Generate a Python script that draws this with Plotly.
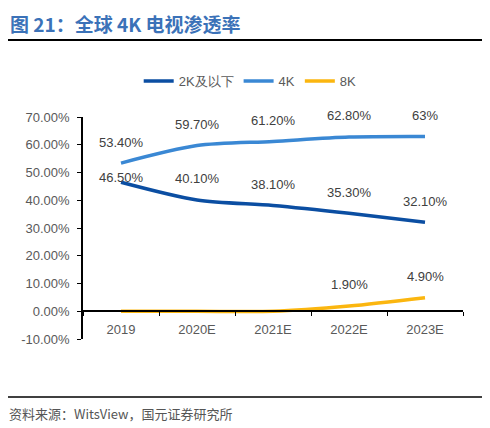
import plotly.graph_objects as go

years = ["2019", "2020E", "2021E", "2022E", "2023E"]
share_2k = [46.5, 40.1, 38.1, 35.3, 32.1]
share_4k = [53.4, 59.7, 61.2, 62.8, 63.0]
share_8k = [0, 0, 0, 1.9, 4.9]

labels_2k = ["46.50%", "40.10%", "38.10%", "35.30%", "32.10%"]
labels_4k = ["53.40%", "59.70%", "61.20%", "62.80%", "63%"]
labels_8k = ["", "", "", "1.90%", "4.90%"]

y_ticks = [-10, 0, 10, 20, 30, 40, 50, 60, 70]
y_ticklabels = ["-10.00%", "0.00%", "10.00%", "20.00%", "30.00%",
                "40.00%", "50.00%", "60.00%", "70.00%"]

series = [
    ("2K及以下", share_2k, labels_2k, "#0b4ea2"),
    ("4K", share_4k, labels_4k, "#3a88d4"),
    ("8K", share_8k, labels_8k, "#fbb60f"),
]

fig = go.Figure()
annotations = []
for name, vals, labs, color in series:
    fig.add_trace(go.Scatter(
        x=years, y=vals, name=name, mode="lines",
        line=dict(color=color, width=3.5, shape="spline", smoothing=0.8),
        hoverinfo="skip",
    ))
    for i, (v, lab) in enumerate(zip(vals, labs)):
        if not lab:
            continue
        shift = 5 if lab == "46.50%" else 21
        annotations.append(dict(
            x=i, y=v, text=lab, showarrow=False, yshift=shift,
            font=dict(size=13, color="#404040", family="Liberation Sans"),
        ))

# title, rules and source (paper coords of the plot area)
annotations.append(dict(
    x=-0.197, y=1.419, xref="paper", yref="paper", xanchor="left", yanchor="middle",
    text="<b>图 21：全球 4K 电视渗透率</b>", showarrow=False,
    font=dict(size=19, color="#3b72b8", family="Noto Sans CJK SC"),
))
annotations.append(dict(
    x=-0.2, y=-0.335, xref="paper", yref="paper", xanchor="left", yanchor="middle",
    text="资料来源：WitsView，国元证券研究所", showarrow=False,
    font=dict(size=13, color="#555555", family="Noto Sans CJK SC"),
))

shapes = [
    dict(type="line", xref="paper", yref="paper", x0=-0.22, x1=1.08,
         y0=1.3468, y1=1.3468, line=dict(color="black", width=2)),
    dict(type="line", xref="paper", yref="paper", x0=-0.22, x1=1.08,
         y0=-0.2613, y1=-0.2613, line=dict(color="black", width=1.5)),
]

# page body has an 8px margin, so the figure is 8px smaller and shifted
fig.update_layout(
    width=482, height=420,
    margin=dict(l=75, r=27, t=109, b=89),
    paper_bgcolor="white", plot_bgcolor="white",
    font=dict(family="Liberation Sans", size=13, color="#595959"),
    showlegend=True,
    legend=dict(orientation="h", x=0.44, xanchor="center", y=1.162, yanchor="middle",
                font=dict(size=13, color="#595959")),
    annotations=annotations,
    shapes=shapes,
)
fig.update_yaxes(
    range=[-10, 70], tickvals=y_ticks, ticktext=y_ticklabels,
    showgrid=False, zeroline=False, showline=True, linecolor="black", linewidth=1.5,
    ticks="outside", ticklen=4, tickcolor="black", domain=[0, 1],
    ticklabelstandoff=5,
)
fig.update_xaxes(
    range=[-0.5, 4.5], showgrid=False, zeroline=False,
    showline=True, linecolor="black", linewidth=1.5,
    anchor="free", position=0.125,
    ticks="outside", tickson="boundaries", ticklen=4, tickcolor="black",
    tickfont=dict(size=13, color="#595959"), ticklabelstandoff=6,
)

fig.write_html("out.html")
